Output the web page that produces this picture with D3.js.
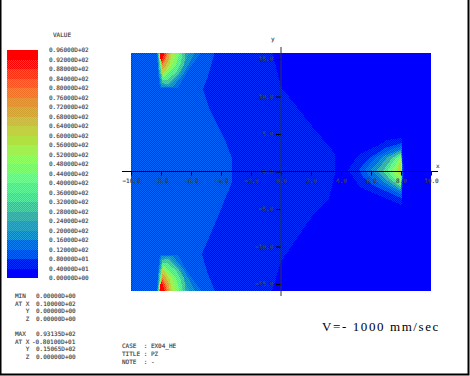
<!DOCTYPE html>
<html><head><meta charset="utf-8">
<script src="https://cdn.jsdelivr.net/npm/d3@7"></script>
<style>html,body{margin:0;padding:0;background:#fff;overflow:hidden}svg{display:block}
text{font-family:"DejaVu Sans Mono",monospace;font-size:6px;fill:#222;stroke:#777;stroke-width:.15}</style></head><body>
<svg id="c" width="470" height="376"></svg>
<script>
const legendLabels=["0.96000D+02","0.92000D+02","0.88000D+02","0.84000D+02","0.80000D+02","0.76000D+02","0.72000D+02","0.68000D+02","0.64000D+02","0.60000D+02","0.56000D+02","0.52000D+02","0.48000D+02","0.44000D+02","0.40000D+02","0.36000D+02","0.32000D+02","0.28000D+02","0.24000D+02","0.20000D+02","0.16000D+02","0.12000D+02","0.80000D+01","0.40000D+01","0.00000D+00"];
const bandMain=["#0000ff","#0000ff","#0030ff","#0050ff","#0078ff","#1890e0","#28a8c8","#30b8b0","#40d0a8","#48e0a0","#58f098","#60f888","#70ff70","#80ff60","#90f050","#a0e050","#b8d040","#c0c040","#c8a838","#d89830","#e88028","#f06020","#ff4010","#ff0000"];
const bandDither=["#0000ff","#0030ff","#0068ff","#0a80f0","#20a0d8","#30a8c8","#40b8b0","#50d8a8","#58f0a0","#60f898","#70ff90","#80ff70","#90ff60","#a0f050","#b0e040","#c0d040","#c8b840","#d0a030","#e09030","#f07028","#ff5020","#ff3010","#ff0000","#ff0000"];
const xTicks=[-10,-8,-6,-4,-2,0,2,4,6,8,10];
const yTicks=[15,10,5,0,-5,-10,-15];
const minBlock=[["MIN","0.00000D+00"],["AT X","0.10000D+02"],["   Y","0.00000D+00"],["   Z","0.00000D+00"]];
const maxBlock=[["MAX","0.93135D+02"],["AT X","-0.80100D+01"],["   Y","0.15065D+02"],["   Z","0.00000D+00"]];
const caseLines=["CASE  : EX04_HE","TITLE : PZ","NOTE  : -"];
// regions: outline in data units
const level1=[[-4.4,16],[-4.9,12.5],[-5.2,11],[-4.8,8.5],[-4.4,6.8],[-3.7,4],[-3.27,1.8],[-3.27,-1.4],[-4.2,-6],[-5.27,-11],[-4.9,-13.5],[-4.4,-16],[-0.6,-16],[0,-12],[2.13,-5.8],[3.2,-3.6],[3.6,-0.2],[3.6,2.4],[2.13,5.9],[0,11.3],[-0.6,16]];
const level2=[[-11,16],...level1.slice(0,12),[-11,-16]];
const hotTop=[
[12,[[-8.27,16],[-8.2,13.1],[-8.07,11.1],[-6.87,11.1],[-6.2,13.5],[-5.27,16]]],
[16,[[-8.25,16],[-8.15,13],[-8,11.3],[-7.2,11.3],[-6.5,13],[-5.7,16]]],
[20,[[-8.22,16],[-8.12,13.2],[-7.95,11.5],[-7.4,11.4],[-6.7,13],[-6.1,16]]],
[28,[[-8.2,16],[-8.1,13.6],[-7.9,11.8],[-7.53,11.6],[-6.87,12.9],[-6.47,14.2],[-6.35,16]]],
[36,[[-8.18,16],[-8.05,14],[-7.9,12.2],[-7.6,12.2],[-7,13.2],[-6.7,14.3],[-6.55,16]]],
[44,[[-8.17,16],[-8.05,14.3],[-7.85,12.6],[-7.8,12.5],[-7.4,13.3],[-7,14.2],[-6.75,16]]],
[52,[[-8.16,16],[-8.02,14.6],[-7.9,12.9],[-7.6,13.4],[-7.2,14.4],[-7,16]]],
[60,[[-8.15,16],[-8,14.8],[-7.93,13],[-7.67,13.5],[-7.4,14.5],[-7.27,16]]],
[68,[[-8.14,16],[-8,15],[-7.93,13.6],[-7.7,14.1],[-7.5,14.9],[-7.4,16]]],
[76,[[-8.13,16],[-8,15.1],[-7.93,14.1],[-7.67,14.9],[-7.53,16]]],
[84,[[-8.12,16],[-8,15.2],[-7.93,14.4],[-7.75,15],[-7.63,16]]],
[92,[[-8.1,16],[-8,14.6],[-7.87,15.1],[-7.73,16]]]];
const hotRight=[
[4,[[4.47,0.2],[5.13,2.2],[6.47,3.5],[7.07,4.2],[8.07,4.5],[8.13,0],[8.07,-4.5],[5.27,-2.1]]],
[8,[[5.2,0.3],[5.9,1.8],[7,3.2],[8.05,3.8],[8.12,0],[8.05,-3.6],[6.2,-1.9],[5.5,-0.8]]],
[12,[[5.6,0.3],[6.4,2],[7.4,3],[8.05,3.4],[8.1,0],[8.03,-3.1],[6.6,-1.7],[5.8,-0.5]]],
[16,[[6,0.2],[6.8,2],[8.02,3],[8.1,0],[8,-2.7],[6.8,-1.4]]],
[24,[[6.4,0.2],[7.1,1.9],[8.02,2.8],[8.08,0],[8,-2.4],[7,-1.1]]],
[32,[[6.8,0.1],[7.4,1.8],[8.02,2.5],[8.07,0],[8,-2.1],[7.2,-0.9]]],
[40,[[7.1,0.1],[7.6,1.7],[8.02,2.2],[8.06,0],[8,-1.8],[7.4,-0.7]]],
[48,[[7.4,0.1],[7.8,1.4],[8.02,1.9],[8.05,0],[8,-1.3],[7.6,-0.5]]],
[56,[[7.7,0.2],[7.9,1.1],[8.02,1.5],[8.04,0],[7.95,-0.6]]]];

const svg=d3.select("#c");
const x=d3.scaleLinear().domain([-10,10]).range([131,431]);
const y=d3.scaleLinear().domain([15,-15]).range([59,284]);
const bandStep=4;
const legendY=d3.scaleLinear().domain([96,0]).range([50,278]);
const defs=svg.append("defs");
bandMain.forEach((c,i)=>{
  const p=defs.append("pattern").attr("id","b"+i).attr("width",2).attr("height",2).attr("patternUnits","userSpaceOnUse");
  p.append("rect").attr("width",2).attr("height",2).attr("fill",c).attr("shape-rendering","crispEdges");
  p.selectAll("rect.d").data([[0,0],[1,1]]).join("rect").attr("class","d").attr("x",d=>d[0]).attr("y",d=>d[1]).attr("width",1).attr("height",1).attr("fill",bandDither[i]).attr("shape-rendering","crispEdges");
});
const fillOf=v=>`url(#b${Math.min(23,Math.floor(v/bandStep))})`;
// frame
svg.append("rect").attr("x",0.5).attr("y",-3).attr("width",468).attr("height",377.5).attr("fill","none").attr("stroke","#000").attr("stroke-width",2);
// legend
svg.append("g").selectAll("rect").data(bandMain).join("rect")
 .attr("x",7).attr("width",31).attr("y",(d,i)=>legendY(bandStep*(i+1))).attr("height",legendY(0)-legendY(bandStep))
 .attr("fill",(d,i)=>`url(#b${i})`).attr("shape-rendering","crispEdges");
svg.append("text").text("VALUE").attr("x",53).attr("y",37);
svg.append("g").selectAll("text").data(legendLabels).join("text").text(d=>d).attr("x",49).attr("y",(d,i)=>legendY(96-i*bandStep)+2);
// plot
const clip=defs.append("clipPath").attr("id","pl");
clip.append("rect").attr("x",131).attr("y",53).attr("width",300).attr("height",238);
const plot=svg.append("g").attr("clip-path","url(#pl)");
plot.append("rect").attr("x",131).attr("y",53).attr("width",300).attr("height",238).attr("fill",fillOf(0));
const line=d3.line().x(d=>x(d[0])).y(d=>y(d[1])).curve(d3.curveLinearClosed);
const poly=(pts,v)=>plot.append("path").attr("d",line(pts)).attr("fill",fillOf(v)).attr("shape-rendering","crispEdges");
poly(level1,4);poly(level2,8);
hotRight.forEach(([v,p])=>poly(p,v));
hotTop.forEach(([v,p])=>poly(p,v));
hotTop.forEach(([v,p])=>poly(p.map(q=>[q[0],-q[1]]),v));
// axes
const ax=svg.append("g").attr("transform",`translate(0,${y(0)})`).call(d3.axisBottom(x).tickValues(xTicks).tickSize(4).tickPadding(3).tickFormat(d3.format(".1f")));
ax.select(".domain").remove();
const ay=svg.append("g").attr("transform",`translate(${x(0)},0)`).call(d3.axisLeft(y).tickValues(yTicks).tickSize(5).tickPadding(3).tickFormat(d3.format(".1f")));
ay.select(".domain").remove();
svg.append("line").attr("x1",122).attr("x2",438).attr("y1",y(0)).attr("y2",y(0)).attr("stroke","#000");
svg.append("line").attr("x1",x(0)).attr("x2",x(0)).attr("y1",47).attr("y2",296).attr("stroke","#334");
svg.selectAll(".tick text").style("font-family",'"DejaVu Sans Mono",monospace').style("font-size","6px").attr("fill","#222");
svg.append("text").text("x").attr("x",436).attr("y",168);
svg.append("text").text("y").attr("x",271).attr("y",41);
// info
const block=(rows,y0)=>rows.forEach((r,i)=>{
  svg.append("text").style("white-space","pre").text(r[0]).attr("x",15).attr("y",y0+i*7.7);
  svg.append("text").text(r[1]).attr("x",r[1][0]=="-"?32:36).attr("y",y0+i*7.7);
});
block(minBlock,298);block(maxBlock,336);
caseLines.forEach((t,i)=>svg.append("text").style("white-space","pre").text(t).attr("x",122).attr("y",348+i*8));
svg.append("text").text("V=- 1000 mm/sec").attr("x",322).attr("y",331).style("font-family",'"Liberation Serif",serif').style("font-size","13px").attr("letter-spacing","1.6").style("fill","#000").style("stroke","none");
</script></body></html>
